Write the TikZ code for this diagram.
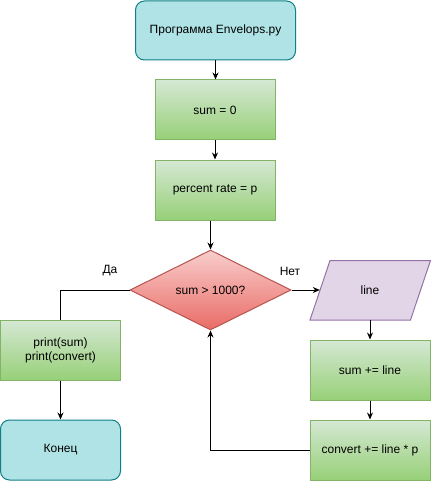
\documentclass[tikz,border=0pt]{standalone}
\usepackage{fontspec}
\setmainfont{Liberation Sans}
\usetikzlibrary{shapes.geometric,arrows.meta}
\definecolor{cyanfill}{HTML}{B0E3E6}
\definecolor{cyanline}{HTML}{0E8088}
\definecolor{gtop}{HTML}{D5E8D4}
\definecolor{gbot}{HTML}{97D077}
\definecolor{gline}{HTML}{82B366}
\definecolor{rtop}{HTML}{F8CECC}
\definecolor{rbot}{HTML}{EA6B66}
\definecolor{rline}{HTML}{B85450}
\definecolor{pfill}{HTML}{E1D5E7}
\definecolor{pline}{HTML}{9673A6}
\tikzset{
  every node/.style={font=\fontsize{12}{14}\selectfont, inner sep=0pt},
  term/.style={rectangle, rounded corners=9pt, draw=cyanline, fill=cyanfill, line width=1pt},
  proc/.style={rectangle, draw=gline, top color=gtop, bottom color=gbot, line width=1pt, minimum width=120pt, minimum height=60pt, align=center},
  decis/.style={diamond, aspect=2, draw=rline, top color=rtop, bottom color=rbot, line width=1pt, minimum width=161pt, minimum height=80pt},
  conn/.style={line width=1pt, -{Stealth[length=7pt,width=6pt]}},
  plain/.style={line width=1pt},
}
\begin{document}
\begin{tikzpicture}[x=1pt,y=-1pt]
\useasboundingbox (0,0) rectangle (431,481);
\node[term, minimum width=160pt, minimum height=59pt] (start) at (215.5,30.5) {Программа Envelops.py};
\node[proc] (sum0) at (215,110) {sum = 0};
\node[proc] (pct) at (215,190) {percent rate = p};
\node[decis] (dia) at (210.5,290) {sum > 1000?};
\node[proc] (print) at (60.5,350) {print(sum)\\print(convert)};
\node[term, minimum width=120pt, minimum height=60pt] (end) at (60.5,450) {Конец};
\path[draw=pline, fill=pfill, line width=1pt] (310,320) -- (330,260.5) -- (430.5,260.5) -- (410.5,320) -- cycle;
\node[minimum width=100pt, minimum height=60pt] (line) at (370,290) {line};
\node[proc] (sump) at (370,370) {sum += line};
\node[proc] (conv) at (370,450) {convert += line * p};
\node (yes) at (110,271) {Да};
\node (no) at (290,271) {Нет};
\draw[conn] (start.south) -- (start.south |- sum0.north);
\draw[conn] (sum0.south) -- (pct.north);
\draw[conn] (pct.south -| dia.north) -- (dia.north);
\draw[plain] (dia.west) -| (print.north);
\draw[conn] (print.south) -- (end.north);
\draw[conn] (dia.east) -- (line.west);
\draw[conn] (line.south) -- (sump.north);
\draw[conn] (sump.south) -- (conv.north);
\draw[conn] (conv.west) -| (dia.south);
\end{tikzpicture}
\end{document}
